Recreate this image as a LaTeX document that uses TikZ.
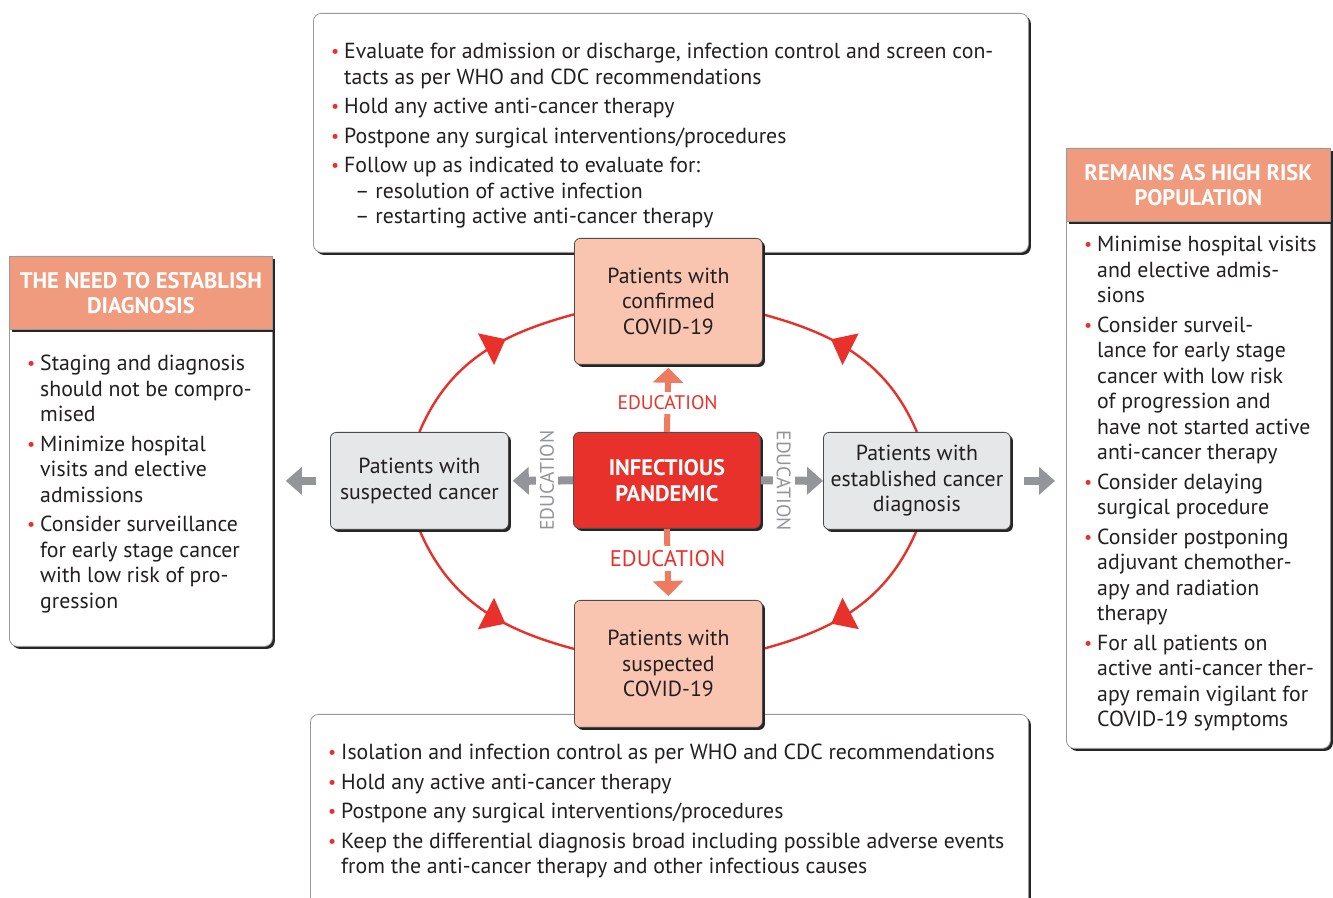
\documentclass[tikz,border=0pt]{standalone}
\usepackage{fontspec}
\setmainfont{PT Sans}
\usetikzlibrary{arrows.meta,shadows,decorations.markings,backgrounds,calc}
\definecolor{bred}{HTML}{E8312A}
\definecolor{hsal}{HTML}{F19B7E}
\definecolor{lsal}{HTML}{F9C5B1}
\definecolor{asal}{HTML}{EE7A5F}
\definecolor{lgr}{HTML}{E6E7E8}
\definecolor{mgr}{HTML}{939598}
\definecolor{ink}{HTML}{231F20}
\newcommand\bul{\makebox[13pt][l]{\textcolor{bred}{\raisebox{1pt}{\fontsize{18}{18}\selectfont •}}}}
\newcommand\ind{\hspace*{13pt}}
\newcommand\subi{\hspace*{24pt}–\ }
\begin{document}
\begin{tikzpicture}[x=1pt,y=1pt,
  shd/.style={drop shadow={shadow xshift=2.5pt,shadow yshift=-2.5pt,fill=black!85,opacity=1}},
  panel/.style={shd, draw=black!40, line width=0.8pt, fill=white, rounded corners=8pt, anchor=north west, inner sep=0pt},
  hdr/.style={shd, draw=black!40, line width=0.8pt, fill=hsal, anchor=north west, inner sep=0pt, text=white, font=\bfseries\fontsize{22.5}{24.5}\selectfont, align=center},
  txt/.style={anchor=north west, inner sep=0pt, align=left, text=ink, font=\fontsize{21.8}{25.5}\selectfont},
  stage/.style={shd, draw=black!70, line width=0.8pt, rounded corners=6pt, anchor=north west, inner sep=0pt, align=center, text=ink, font=\fontsize{21.8}{25.5}\selectfont},
  cyc/.style={draw=bred, line width=2.4pt, decoration={markings, mark=at position 0.64 with {\arrow{Triangle[length=22pt,width=35pt]}}}, postaction={decorate}},
  garrow/.style={draw=mgr, line width=8pt, -{Triangle[length=16pt,width=27pt]}},
  sarrow/.style={draw=asal, line width=6pt, -{Triangle[length=15pt,width=30pt]}},
  edu/.style={fill=white, inner xsep=1pt, inner ysep=4pt, font=\fontsize{19.6}{21}\selectfont}
]
\useasboundingbox (0,0) rectangle (1333,897);

% panels
\node[panel, minimum width=715pt, minimum height=239pt] (topbox) at (313,884) {};
\node[panel, minimum width=718pt, minimum height=206pt] (botbox) at (310,183) {};
\node[panel, minimum width=263pt, minimum height=390pt] (lbox) at (9,641) {};
\node[panel, minimum width=264pt, minimum height=600pt] (rbox) at (1066,749) {};
\node[hdr, minimum width=263pt, minimum height=73pt] (lhead) at (9,641) {THE NEED TO ESTABLISH\\DIAGNOSIS};
\node[hdr, minimum width=264pt, minimum height=73pt] (rhead) at (1066,749) {REMAINS AS HIGH RISK\\POPULATION};

% panel texts
\node[txt] (toptext) at (331,854) {\bul Evaluate for admission or discharge, infection control and screen con-\\
\ind tacts as per WHO and CDC recommendations\\[4pt]
\bul Hold any active anti-cancer therapy\\[4pt]
\bul Postpone any surgical interventions/procedures\\[4pt]
\bul Follow up as indicated to evaluate for:\\
\subi resolution of active infection\\
\subi restarting active anti-cancer therapy};

\node[txt] (bottext) at (328,153) {\bul Isolation and infection control as per WHO and CDC recommendations\\[4pt]
\bul Hold any active anti-cancer therapy\\[4pt]
\bul Postpone any surgical interventions/procedures\\[4pt]
\bul Keep the differential diagnosis broad including possible adverse events\\
\ind from the anti-cancer therapy and other infectious causes};

\node[txt] (ltext) at (27,542) {\bul Staging and diagnosis\\
\ind should not be compro-\\
\ind mised\\[4pt]
\bul Minimize hospital\\
\ind visits and elective\\
\ind admissions\\[4pt]
\bul Consider surveillance\\
\ind for early stage cancer\\
\ind with low risk of pro-\\
\ind gression};

\node[txt] (rtext) at (1084,661) {\bul Minimise hospital visits\\
\ind and elective admis-\\
\ind sions\\[4pt]
\bul Consider surveil-\\
\ind lance for early stage\\
\ind cancer with low risk\\
\ind of progression and\\
\ind have not started active\\
\ind anti-cancer therapy\\[4pt]
\bul Consider delaying\\
\ind surgical procedure\\[4pt]
\bul Consider postponing\\
\ind adjuvant chemother-\\
\ind apy and radiation\\
\ind therapy\\[4pt]
\bul For all patients on\\
\ind active anti-cancer ther-\\
\ind apy remain vigilant for\\
\ind COVID-19 symptoms};

% stage boxes
\node[stage, fill=lsal, minimum width=188pt, minimum height=126pt] (conf) at (574,659) {Patients with\\confirmed\\COVID-19};
\node[stage, fill=lsal, minimum width=188pt, minimum height=127pt] (susp) at (574,297) {Patients with\\suspected\\COVID-19};
\node[stage, fill=bred, text=white, font=\bfseries\fontsize{22.5}{25.5}\selectfont, minimum width=187pt, minimum height=96pt] (pan) at (573,465) {INFECTIOUS\\PANDEMIC};
\node[stage, fill=lgr, minimum width=178pt, minimum height=97pt] (sc) at (330,465) {Patients with\\suspected cancer};
\node[stage, fill=lgr, minimum width=187pt, minimum height=97pt] (ec) at (823,465) {Patients with\\established cancer\\diagnosis};

% cycle arcs
\begin{pgfonlayer}{background}
\fill[white] (0,0) rectangle (1333,897);
\draw[cyc] (sc.north) to[out=67,in=195] ([yshift=-13pt]conf.west);
\draw[cyc] (ec.north) to[out=113,in=-15] ([yshift=-13pt]conf.east);
\draw[cyc] (sc.south) to[out=-67,in=165] ([yshift=15pt]susp.west);
\draw[cyc] (ec.south) to[out=-113,in=15] ([yshift=15pt]susp.east);
\end{pgfonlayer}

% education arrows
\draw[garrow] (pan.west) -- ([xshift=4pt]sc.east) node[pos=0.43, edu, text=mgr, rotate=90] (edul) {EDUCATION};
\draw[garrow] (pan.east) -- (ec.west) node[pos=0.37, edu, text=mgr, rotate=-90] (edur) {EDUCATION};
\draw[sarrow] (pan.north) -- ([yshift=-3pt]conf.south) node[pos=0.45, edu, text=bred] (edut) {EDUCATION};
\draw[sarrow] (pan.south) -- ([yshift=4pt]susp.north) node[pos=0.44, edu, text=bred, font=\fontsize{22.6}{24}\selectfont] (edub) {EDUCATION};

% outer gray arrows
\draw[garrow] ([xshift=-14pt]sc.west) -- ([xshift=13pt]lbox.east |- sc.west);
\draw[garrow] ([xshift=13pt]ec.east) -- ([xshift=-11pt]rbox.west |- ec.east);
\end{tikzpicture}
\end{document}
